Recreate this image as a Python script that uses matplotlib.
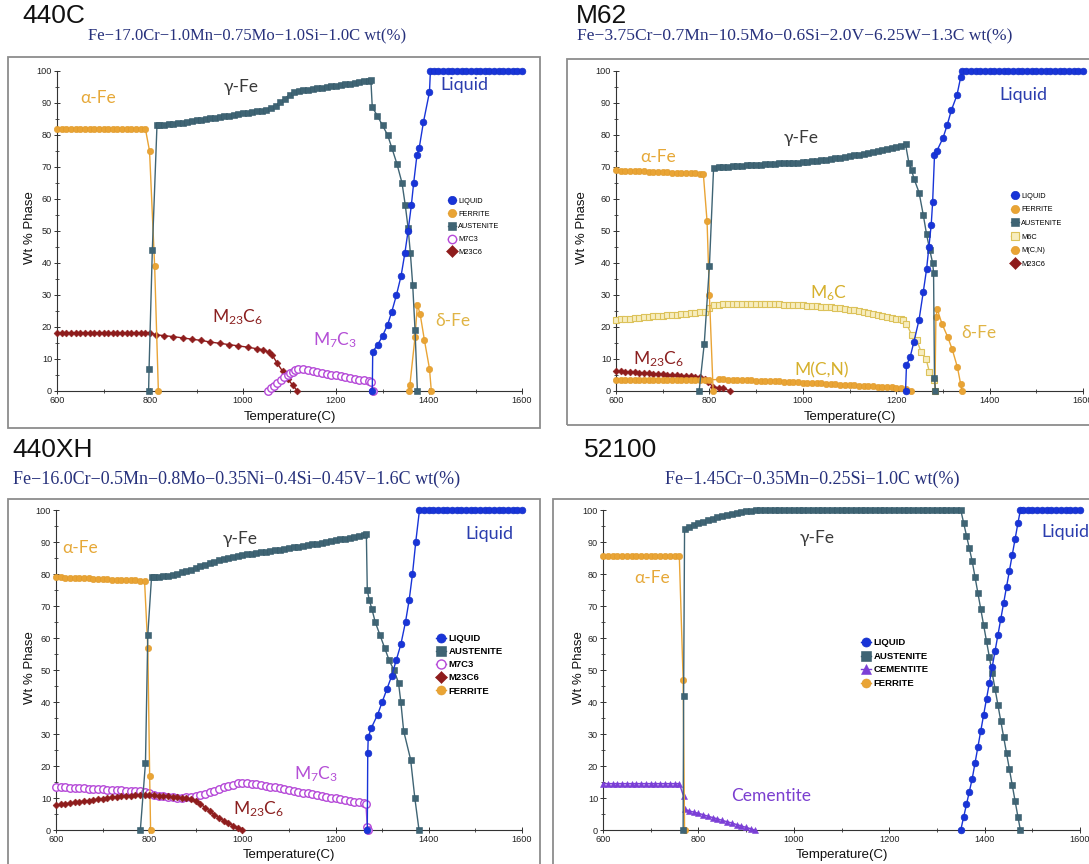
import matplotlib
matplotlib.use("Agg")
import matplotlib.pyplot as plt
from matplotlib import font_manager
from matplotlib.lines import Line2D
from matplotlib.patches import Rectangle
from matplotlib.ticker import MultipleLocator

# ------------------------------------------------------------------
# Equilibrium phase fractions (wt % phase) versus temperature (deg C)
# ------------------------------------------------------------------

# ---- 440C ----
c440_ferrite_T = list(range(600, 800, 10)) + [799, 810, 818]
c440_ferrite = [82.0] * 20 + [75.0, 39.0, 0.0]
c440_delta_T = [1357, 1359, 1370, 1375, 1381, 1390, 1401, 1405]
c440_delta = [0, 2, 17, 27, 24, 16, 7, 0]
c440_aus_T = ([797, 798, 805, 815] + list(range(820, 1280, 10)) +
              [1275, 1278, 1289, 1300, 1311, 1320, 1331, 1342, 1349, 1355, 1360, 1365, 1370, 1375])
c440_aus = ([0, 7, 44, 83.0] +
            [83.0, 83.2, 83.3, 83.5, 83.7, 83.9, 84.1, 84.3, 84.6, 84.8,
             85.0, 85.2, 85.4, 85.6, 85.8, 86.0, 86.3, 86.5, 86.8,
             87.0, 87.2, 87.4, 87.6, 87.9,
             88.4, 89.2, 90.2, 91.4, 92.6, 93.3,
             93.7, 94.0, 94.2, 94.4, 94.6, 94.8, 95.0, 95.2, 95.4,
             95.6, 95.8, 96.0, 96.3, 96.5, 96.8, 97.0] +
            [97.2, 88.7, 86, 83, 80, 76, 71, 65, 58, 51, 43, 33, 19, 0])
c440_liquid_T = ([1278, 1279, 1290, 1300, 1311, 1320, 1330, 1340, 1348, 1355, 1362, 1367,
                  1374, 1379, 1388, 1401, 1403] + list(range(1410, 1610, 10)))
c440_liquid = ([0, 12.3, 14.5, 17.2, 20.7, 24.8, 30, 36, 43, 50, 58, 65, 73.6, 76, 84, 93.4, 100] +
               [100.0] * 20)
c440_m23c6_T = (list(range(600, 810, 10)) +
                [812, 830, 850, 870, 890, 910, 930, 950, 970, 990, 1010, 1030, 1043, 1055,
                 1063, 1074, 1085, 1096, 1107, 1117])
c440_m23c6 = ([18.2] * 21 +
              [17.6, 17.3, 17.0, 16.6, 16.2, 15.8, 15.3, 14.9, 14.5, 14.1, 13.7, 13.2, 12.9, 12.2,
               11.2, 8.6, 6.2, 3.8, 1.8, 0])
c440_m7c3_T = ([1054, 1060, 1066, 1073, 1081, 1088, 1096, 1102, 1107, 1112, 1118] +
               list(range(1130, 1280, 10)) + [1276, 1279])
c440_m7c3 = ([0, 0.8, 1.6, 2.5, 3.5, 4.3, 5.0, 5.6, 6.0, 6.6, 7.0] +
             [6.8, 6.6, 6.3, 6.0, 5.7, 5.4, 5.1, 4.9, 4.6, 4.3, 4.0, 3.8, 3.5, 3.3, 3.1] +
             [2.9, 0])

# ---- M62 ----
m62_ferrite_T = list(range(600, 790, 10)) + [787, 795, 800, 808]
m62_ferrite = ([69.0, 68.9, 68.9, 68.8, 68.7, 68.7, 68.6, 68.5, 68.5, 68.4, 68.3, 68.3, 68.2,
                68.2, 68.1, 68.1, 68.0, 68.0, 67.9] + [67.9, 53, 30, 0])
m62_delta_T = [1283, 1285, 1288, 1298, 1310, 1320, 1331, 1338, 1341]
m62_delta = [0, 23, 25.5, 21, 17, 13, 7.5, 2.2, 0]
m62_aus_T = ([778, 789, 800, 809] + list(range(820, 1230, 10)) +
             [1227, 1233, 1238, 1249, 1258, 1265, 1272, 1278, 1280, 1282, 1284])
m62_aus = ([0, 14.8, 39, 69.8] +
           [70.0, 70.1, 70.1, 70.2, 70.3, 70.4, 70.5, 70.5, 70.6,
            70.7, 70.8, 70.9, 71.0, 71.1, 71.2, 71.2, 71.3, 71.4, 71.5,
            71.6, 71.8, 71.9, 72.1, 72.3, 72.5, 72.7, 72.9, 73.1, 73.3,
            73.6, 73.8, 74.1, 74.4, 74.7, 75.0, 75.3, 75.6, 75.9, 76.3,
            76.7, 77.1] +
           [71.4, 69, 66.4, 62, 55, 49, 44, 40, 37, 4, 0])
m62_liquid_T = ([1220, 1222, 1230, 1238, 1249, 1258, 1265, 1270, 1275, 1278, 1282, 1287, 1300,
                 1309, 1318, 1330, 1338, 1341] + list(range(1350, 1610, 10)))
m62_liquid = ([0, 8, 10.7, 15.4, 22.3, 31, 38, 45, 52, 59, 73.6, 75, 79, 83, 87.7, 92.4, 98, 100] +
              [100.0] * 26)
m62_m6c_T = (list(range(600, 800, 10)) + [800, 810] + list(range(820, 1220, 10)) +
             [1215, 1222, 1233, 1244, 1253, 1264, 1271, 1282, 1284])
m62_m6c = ([22.3, 22.4, 22.5, 22.6, 22.8, 22.9, 23.0, 23.1, 23.3, 23.4, 23.5, 23.6, 23.8, 23.9,
            24.0, 24.2, 24.3, 24.5, 24.6, 24.8] + [26.0, 26.8] +
           [27.0, 27.1, 27.2, 27.2, 27.3, 27.3, 27.3, 27.3, 27.3, 27.2,
            27.2, 27.2, 27.1, 27.1, 27.0, 27.0, 26.9, 26.8, 26.8, 26.7,
            26.6, 26.5, 26.4, 26.3, 26.1, 26.0, 25.8, 25.6, 25.4, 25.2,
            25.0, 24.7, 24.4, 24.1, 23.8, 23.5, 23.2, 22.9, 22.6, 22.4] +
           [22.3, 21.0, 17.6, 16.0, 12.3, 10.0, 6.0, 3.5, 0])
m62_mcn_T = list(range(600, 810, 10)) + list(range(820, 1230, 10)) + [1232]
m62_mcn = ([3.5] * 21 +
           [3.6, 3.6, 3.5, 3.5, 3.4, 3.4, 3.3, 3.3, 3.2,
            3.2, 3.1, 3.1, 3.0, 3.0, 2.9, 2.8, 2.8, 2.7, 2.6,
            2.6, 2.5, 2.4, 2.4, 2.3, 2.2, 2.1, 2.0, 2.0, 1.9,
            1.8, 1.7, 1.6, 1.6, 1.5, 1.4, 1.3, 1.2, 1.1, 1.0,
            0.9, 0.7] + [0])
m62_m23c6_T = list(range(600, 790, 10)) + [790, 797, 808, 820, 830, 845]
m62_m23c6 = ([6.2, 6.1, 6.0, 5.9, 5.8, 5.7, 5.6, 5.5, 5.4, 5.3, 5.2, 5.1, 5.0, 4.9, 4.8, 4.7,
              4.6, 4.5, 4.4] + [3.8, 2.8, 1.3, 1.0, 0.8, 0])

# ---- 440XH ----
xh_ferrite_T = list(range(600, 800, 10)) + [797, 801, 803]
xh_ferrite = ([79.0, 79.0, 78.9, 78.8, 78.8, 78.7, 78.6, 78.6, 78.5, 78.4, 78.4, 78.3, 78.2,
               78.2, 78.1, 78.1, 78.0, 78.0, 77.9, 77.9] + [57, 17, 0])
xh_aus_T = ([781, 792, 797, 805] + list(range(810, 1270, 10)) +
            [1266, 1268, 1272, 1278, 1285, 1295, 1305, 1315, 1325, 1335, 1340, 1346, 1361, 1370, 1379])
xh_aus = ([0, 21, 61, 79.0] +
          [79.0, 79.1, 79.3, 79.5, 79.8, 80.1, 80.5, 80.9, 81.4, 81.9,
           82.4, 82.9, 83.4, 83.9, 84.3, 84.7, 85.1, 85.4, 85.7, 86.0,
           86.2, 86.4, 86.6, 86.8, 87.0, 87.2, 87.4, 87.6, 87.8, 88.0,
           88.3, 88.5, 88.8, 89.0, 89.3, 89.5, 89.8, 90.0, 90.3, 90.5,
           90.8, 91.0, 91.3, 91.6, 91.9, 92.2] +
          [92.5, 75, 72, 69, 65, 61, 57, 53, 50, 46, 40, 31, 22, 10, 0])
xh_liquid_T = ([1268, 1269, 1270, 1277, 1290, 1300, 1310, 1320, 1330, 1340, 1350, 1358, 1365,
                1372, 1380] + list(range(1390, 1610, 10)))
xh_liquid = [0, 24, 29, 32, 36, 40, 44, 48, 53, 58, 65, 72, 80, 90, 100] + [100.0] * 22
xh_m7c3_T = list(range(600, 1270, 10)) + [1265, 1268, 1270]
xh_m7c3 = ([13.5, 13.4, 13.3, 13.2, 13.2, 13.1, 13.0, 12.9, 12.8, 12.8,
            12.7, 12.6, 12.5, 12.5, 12.4, 12.3, 12.2, 12.2, 12.1, 12.0] +
           [11.5, 11.0, 10.7, 10.5, 10.3, 10.2, 10.1, 10.1, 10.2, 10.4, 10.7, 11.0,
            11.4, 11.8, 12.3, 12.8, 13.3, 13.8, 14.2, 14.6, 14.8, 14.7, 14.5] +
           [14.3, 14.0, 13.8, 13.5, 13.3, 13.0, 12.8, 12.5, 12.2, 12.0,
            11.7, 11.5, 11.2, 10.9, 10.7, 10.4, 10.1, 9.9, 9.6, 9.3,
            9.1, 8.8, 8.6, 8.3] + [8.2, 1.0, 0])
xh_m23c6_T = list(range(600, 1010, 10))
xh_m23c6 = ([7.8, 8.0, 8.2, 8.4, 8.6, 8.8, 9.0, 9.2, 9.4, 9.6,
             9.8, 10.0, 10.2, 10.4, 10.5, 10.6, 10.7, 10.8, 10.9, 11.0] +
            [11.0, 10.8, 10.7, 10.6, 10.5, 10.4, 10.3, 10.1, 9.9, 9.6, 9.1,
             8.2, 7.0, 5.9, 4.8, 3.8, 2.9, 2.1, 1.4, 0.7, 0.0])

# ---- 52100 ----
b52_ferrite_T = list(range(600, 770, 10)) + [768, 771]
b52_ferrite = [85.5] * 17 + [47, 0]
b52_aus_T = ([768, 769, 771] + list(range(780, 920, 10)) + list(range(920, 1350, 10)) +
             [1350, 1356, 1362, 1368, 1374, 1380, 1386, 1392, 1398, 1404, 1410, 1416, 1422,
              1428, 1434, 1440, 1446, 1452, 1458, 1464, 1470, 1475])
b52_aus = ([0, 42, 94] +
           [94.6, 95.2, 95.8, 96.3, 96.8, 97.3, 97.7, 98.1, 98.5, 98.8, 99.1, 99.4, 99.6, 99.8] +
           [100.0] * 43 +
           [100, 96, 92, 88, 84, 79, 74, 69, 64, 59, 54, 49, 44, 39, 34, 29, 24, 19, 14, 9, 4, 0])
b52_liquid_T = ([1350, 1356, 1362, 1368, 1374, 1380, 1386, 1392, 1398, 1404, 1410, 1416, 1422,
                 1428, 1434, 1440, 1446, 1452, 1458, 1464, 1470, 1475] + list(range(1480, 1610, 10)))
b52_liquid = ([0, 4, 8, 12, 16, 21, 26, 31, 36, 41, 46, 51, 56, 61, 66, 71, 76, 81, 86, 91, 96, 100] +
              [100.0] * 13)
b52_cem_T = list(range(600, 770, 10)) + [769, 771] + list(range(780, 920, 10)) + [918]
b52_cem = ([14.5] * 17 + [10.5, 6.5] +
           [6.0, 5.6, 5.2, 4.8, 4.3, 3.9, 3.5, 3.0, 2.6, 2.2, 1.7, 1.3, 0.8, 0.4] + [0])

# ------------------------------------------------------------------
W, H = 1089, 864
fig = plt.figure(figsize=(W / 100, H / 100), dpi=100)
fig.patch.set_facecolor("white")

installed = {f.name for f in font_manager.fontManager.ttflist}
SANS = "Liberation Sans"
NOTE = ["Lato", "DejaVu Sans"] if "Lato" in installed else ["DejaVu Sans"]
SERIF = "Liberation Serif"
plt.rcParams["font.family"] = [SANS, "DejaVu Sans"]
plt.rcParams["mathtext.default"] = "regular"


def fx(px):
    return px / W


def fy(py):
    return 1 - py / H


STYLES = {
    "LIQUID": dict(color="#1834d8", marker="o", markersize=4.8, markeredgecolor="#1430c8",
                   markeredgewidth=0.5, linewidth=1.0),
    "FERRITE": dict(color="#e9a435", marker="o", markersize=4.6, markeredgewidth=0.4,
                    markeredgecolor="#e09a2a", linewidth=1.0),
    "AUSTENITE": dict(color="#3f6474", marker="s", markersize=4.1, markeredgewidth=0.4,
                      markeredgecolor="#355a6a", linewidth=1.0),
    "M7C3": dict(color="#b548d8", marker="o", markersize=5.4, markerfacecolor="white",
                 markeredgewidth=1.0, linewidth=1.0),
    "M23C6": dict(color="#8e1c1c", marker="D", markersize=3.5, markeredgewidth=0.4, linewidth=1.0),
    "M6C": dict(color="#dcc25a", marker="s", markersize=4.5, markerfacecolor="#f7edbe",
                markeredgewidth=0.8, linewidth=1.0),
    "M(C,N)": dict(color="#e9a435", marker="o", markersize=4.6, markeredgewidth=0.4,
                   markeredgecolor="#e09a2a", linewidth=1.0),
    "CEMENTITE": dict(color="#7b3fd6", marker="^", markersize=5.0, markeredgewidth=0.4,
                      linewidth=1.0),
}


def make_axes(x0, x1, ytop, ybot):
    ax = fig.add_axes([fx(x0), fy(ybot), (x1 - x0) / W, (ybot - ytop) / H])
    ax.set_xlim(600, 1600)
    ax.set_ylim(0, 100)
    ax.patch.set_alpha(0)
    for s in ("top", "right"):
        ax.spines[s].set_visible(False)
    for s in ("left", "bottom"):
        ax.spines[s].set_color("#333333")
        ax.spines[s].set_linewidth(0.8)
    ax.xaxis.set_major_locator(MultipleLocator(200))
    ax.xaxis.set_minor_locator(MultipleLocator(100))
    ax.yaxis.set_major_locator(MultipleLocator(10))
    ax.yaxis.set_minor_locator(MultipleLocator(5))
    ax.tick_params(which="major", direction="inout", length=4, width=0.7, color="#333333",
                   labelsize=6.6, pad=1.5, labelcolor="#222222")
    ax.tick_params(which="minor", direction="inout", length=2.5, width=0.6, color="#333333")
    return ax


def series(ax, T, v, key, z=3):
    ax.plot(T, v, clip_on=False, zorder=z, **STYLES[key])


def frame(x0, y0, x1, y1):
    fig.patches.append(Rectangle((fx(x0), fy(y1)), (x1 - x0) / W, (y1 - y0) / H,
                                 transform=fig.transFigure, fill=False,
                                 edgecolor="#8c8c8c", linewidth=1.3, zorder=0))


def heading(x, y, name, sub_x, sub_y, sub, sub_size):
    fig.text(fx(x), fy(y), name, fontsize=19, family=SANS, color="#111111",
             ha="left", va="center")
    fig.text(fx(sub_x), fy(sub_y), sub, fontsize=sub_size, family=SERIF, color="#27317c",
             ha="left", va="center")


def axis_titles(ax_x0, ax_x1, xl_y, yl_x, yl_y):
    fig.text(fx((ax_x0 + ax_x1) / 2), fy(xl_y), "Temperature(C)", fontsize=9.5,
             family=SANS, ha="center", va="center", color="#111111")
    fig.text(fx(yl_x), fy(yl_y), "Wt % Phase", fontsize=9.5, family=SANS, rotation=90,
             ha="center", va="center", color="#111111")


def legend(keys, mx, my, fs, pitch, bold, ms):
    handles = []
    for k in keys:
        st = dict(STYLES[k])
        st["markersize"] = ms
        handles.append(Line2D([], [], **st))
    fs_px = fs * 100 / 72
    spacing = pitch / fs_px - 1.0
    fig.legend(handles, keys, loc="upper left",
               bbox_to_anchor=(fx(mx - 0.5 * fs_px), fy(my - 0.6 * fs_px)),
               bbox_transform=fig.transFigure, frameon=False, borderpad=0,
               borderaxespad=0, handlelength=1.0, handletextpad=0.3,
               labelspacing=spacing,
               prop=dict(family=SANS, size=fs, weight="bold" if bold else "normal"))


def note(ax, T, v, text, color, size=12.5):
    ax.text(T, v, text, color=color, fontsize=size, family=NOTE, ha="center", va="center",
            zorder=6)


C_ALPHA = "#e6a838"
C_GAMMA = "#3a3a3a"
C_LIQ = "#2b3dae"
C_M23 = "#8b2020"
C_M7 = "#b44fd6"
C_DELTA = "#e0b445"
C_M6C = "#d6b02c"
C_CEM = "#7b3fd0"

# ---------------- 440C ----------------
frame(8, 57, 540, 428)
heading(22, 16, "440C", 88, 36, "Fe\u221217.0Cr\u22121.0Mn\u22120.75Mo\u22121.0Si\u22121.0C wt(%)", 12.0)
ax1 = make_axes(57, 522, 71, 391)
series(ax1, c440_m23c6_T, c440_m23c6, "M23C6")
series(ax1, c440_m7c3_T, c440_m7c3, "M7C3")
series(ax1, c440_ferrite_T, c440_ferrite, "FERRITE")
series(ax1, c440_delta_T, c440_delta, "FERRITE")
series(ax1, c440_aus_T, c440_aus, "AUSTENITE", z=4)
series(ax1, c440_liquid_T, c440_liquid, "LIQUID", z=5)
axis_titles(57, 522, 417, 30, 228)
note(ax1, 689, 91.5, "\u03b1-Fe", C_ALPHA)
note(ax1, 996, 95, "\u03b3-Fe", C_GAMMA)
note(ax1, 1477, 95.6, "Liquid", C_LIQ, 13)
note(ax1, 989, 23, r"M$_{23}$C$_6$", C_M23)
note(ax1, 1197, 16, r"M$_7$C$_3$", C_M7)
note(ax1, 1452, 22, "\u03b4-Fe", C_DELTA)
legend(["LIQUID", "FERRITE", "AUSTENITE", "M7C3", "M23C6"], 452, 202, 5.3, 13.0, False, 6.0)

# ---------------- M62 ----------------
frame(567, 59, 1100, 425)
heading(576, 16, "M62", 577, 36,
        "Fe\u22123.75Cr\u22120.7Mn\u221210.5Mo\u22120.6Si\u22122.0V\u22126.25W\u22121.3C wt(%)", 12.6)
ax2 = make_axes(616, 1083, 71, 391)
series(ax2, m62_m23c6_T, m62_m23c6, "M23C6")
series(ax2, m62_mcn_T, m62_mcn, "M(C,N)")
series(ax2, m62_m6c_T, m62_m6c, "M6C")
series(ax2, m62_ferrite_T, m62_ferrite, "FERRITE")
series(ax2, m62_delta_T, m62_delta, "FERRITE")
series(ax2, m62_aus_T, m62_aus, "AUSTENITE", z=4)
series(ax2, m62_liquid_T, m62_liquid, "LIQUID", z=5)
axis_titles(616, 1083, 417, 582, 228)
note(ax2, 1473, 92.5, "Liquid", C_LIQ, 13)
note(ax2, 996, 79, "\u03b3-Fe", C_GAMMA)
note(ax2, 691, 73, "\u03b1-Fe", C_ALPHA)
note(ax2, 1056, 30.5, r"M$_6$C", C_M6C)
note(ax2, 1376, 18, "\u03b4-Fe", C_DELTA)
note(ax2, 691, 10, r"M$_{23}$C$_6$", C_M23)
note(ax2, 1040, 6.3, "M(C,N)", C_M6C)
legend(["LIQUID", "FERRITE", "AUSTENITE", "M6C", "M(C,N)", "M23C6"], 1015, 197, 5.3, 13.8,
       False, 6.0)

# ---------------- 440XH ----------------
frame(8, 499, 540, 880)
heading(12, 450, "440XH", 13, 479,
        "Fe\u221216.0Cr\u22120.5Mn\u22120.8Mo\u22120.35Ni\u22120.4Si\u22120.45V\u22121.6C wt(%)", 13.0)
ax3 = make_axes(56, 522, 510, 830)
series(ax3, xh_m23c6_T, xh_m23c6, "M23C6", z=4)
series(ax3, xh_m7c3_T, xh_m7c3, "M7C3")
series(ax3, xh_ferrite_T, xh_ferrite, "FERRITE")
series(ax3, xh_aus_T, xh_aus, "AUSTENITE", z=4)
series(ax3, xh_liquid_T, xh_liquid, "LIQUID", z=5)
axis_titles(56, 522, 855, 30, 668)
note(ax3, 651, 88, "\u03b1-Fe", C_ALPHA)
note(ax3, 995, 91, "\u03b3-Fe", C_GAMMA)
note(ax3, 1531, 92.5, "Liquid", C_LIQ, 13)
note(ax3, 1158, 17.5, r"M$_7$C$_3$", C_M7)
note(ax3, 1035, 6.6, r"M$_{23}$C$_6$", C_M23)
legend(["LIQUID", "AUSTENITE", "M7C3", "M23C6", "FERRITE"], 441, 640, 6.8, 13.5, True, 6.5)

# ---------------- 52100 ----------------
frame(553, 499, 1100, 880)
heading(584, 450, "52100", 665, 479, "Fe\u22121.45Cr\u22120.35Mn\u22120.25Si\u22121.0C wt(%)", 13.0)
ax4 = make_axes(603, 1080, 510, 830)
series(ax4, b52_cem_T, b52_cem, "CEMENTITE")
series(ax4, b52_ferrite_T, b52_ferrite, "FERRITE")
series(ax4, b52_aus_T, b52_aus, "AUSTENITE", z=4)
series(ax4, b52_liquid_T, b52_liquid, "LIQUID", z=5)
axis_titles(603, 1080, 855, 579, 668)
note(ax4, 1049, 91.3, "\u03b3-Fe", C_GAMMA)
note(ax4, 703, 78.6, "\u03b1-Fe", C_ALPHA)
note(ax4, 1569, 93, "Liquid", C_LIQ, 13)
note(ax4, 952, 10.6, "Cementite", C_CEM)
legend(["LIQUID", "AUSTENITE", "CEMENTITE", "FERRITE"], 866, 644, 6.8, 14.0, True, 6.5)

fig.savefig("out.png", dpi=100, facecolor="white")
